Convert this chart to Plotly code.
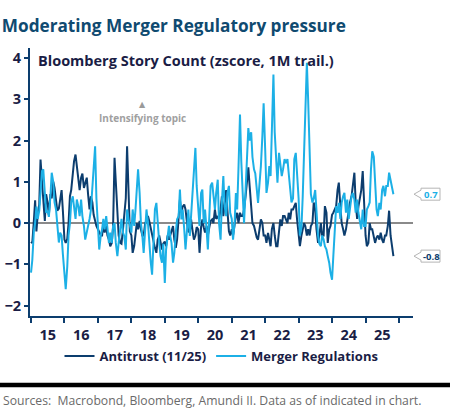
import pandas as pd
import plotly.graph_objects as go

# ---- data (z-scores, semi-monthly readings) ----
antitrust_2015 = [-0.45, -0.48, 0.05, 0.55, -0.2, 0.2, 0.45, 1.54, 1.0, 0.45, 0.05, 0.7, 0.5, 0.2, 0.7, 0.6, 1.0, 0.85, 0.5, 0.3, 0.35, 0.55, 0.8, 0.3]
antitrust_2016 = [-0.4, -0.48, -0.38, 0.0, 0.65, 0.8, 1.2, 1.5, 1.66, 1.35, 1.0, 0.8, 1.1, 1.2, 0.85, 0.95, 1.1, 0.7, 0.33, 0.65, 0.5, 0.2, 0.05, -0.07]
antitrust_2017 = [-0.15, -0.23, -0.3, -0.3, 0.0, -0.23, -0.07, -0.3, -0.4, -0.56, -0.48, -0.1, 1.58, 1.0, 0.2, -0.3, -0.48, -0.5, -0.15, 0.17, 0.6, 1.86, 0.9, -0.2]
antitrust_2018 = [-0.3, -0.72, -0.55, -0.3, 0.0, -0.15, 0.05, -0.15, -0.3, -0.3, 0.0, 0.05, 0.17, 0.05, -0.15, -0.3, -0.48, -0.6, -0.72, -0.4, -0.3, -0.48, -0.64, -0.5]
antitrust_2019 = [-0.45, -0.56, -0.3, -0.4, -0.3, -0.2, -0.07, -0.4, -0.6, -0.4, 0.1, 0.57, 0.25, 0.4, 0.45, 0.33, 0.0, -0.2, -0.23, 0.09, -0.2, -0.4, -0.3, -0.1]
antitrust_2020 = [-0.15, -0.72, -0.1, 0.09, -0.1, -0.23, -0.07, -0.3, -0.1, 0.05, 0.09, 0.0, 0.33, 0.1, 0.17, 0.09, 0.33, 0.65, 0.17, 0.45, 0.8, 0.3, -0.2, -0.3]
antitrust_2021 = [-0.15, -0.3, 0.0, 0.17, 0.25, 0.0, 0.25, 0.17, 0.17, 0.33, 0.65, 1.0, 1.35, 0.9, 0.41, 0.0, -0.07, -0.2, -0.35, -0.4, -0.15, 0.09, 0.0, -0.3]
antitrust_2022 = [-0.3, -0.48, -0.24, -0.4, -0.56, -0.15, 0.0, -0.3, -0.56, -0.56, -0.15, 0.09, -0.07, 0.17, 0.17, 0.09, 0.0, 0.25, 0.09, 0.33, 0.33, 0.41, 0.49, 0.09]
antitrust_2023 = [-0.3, -0.56, -0.3, -0.15, 0.0, -0.07, -0.3, -0.15, -0.3, -0.07, 0.0, 0.5, 0.33, -0.15, -0.48, -0.3, 0.0, -0.3, -0.3, 0.41, 0.25, -0.48, -0.15, -0.07]
antitrust_2024 = [0.2, 0.25, 0.33, 0.41, 0.8, 0.98, 0.4, 0.0, -0.15, -0.3, -0.15, 0.09, 0.33, 0.5, 0.65, 0.9, 1.22, 0.5, 0.1, 0.4, 0.65, 0.8, 1.26, 0.5]
antitrust_2025 = [-0.3, -0.56, -0.48, 0.0, -0.15, -0.15, -0.3, -0.48, -0.35, -0.3, -0.4, -0.23, -0.4, -0.48, -0.3, -0.3, -0.07, 0.3, -0.3, -0.6, -0.8]

merger_2015 = [-1.2, -0.9, -0.2, 0.0, 0.4, 0.1, 0.3, 0.9, 1.26, 1.3, 0.7, 0.25, 0.3, 0.15, 0.65, 1.22, 1.0, 0.5, 0.33, -0.15, -0.47, -0.23, -0.3, -0.75]
merger_2016 = [-1.3, -1.6, -1.05, -0.3, 0.0, 0.5, 0.65, 0.4, 0.1, 0.57, 0.4, 0.17, 0.57, 0.17, -0.07, -0.4, -0.23, -0.1, 0.1, 0.3, 0.8, 1.3, 1.86, 0.6]
merger_2017 = [-0.2, -0.64, -0.3, -0.15, 0.1, -0.15, 0.17, -0.15, -0.48, -0.23, -0.48, -0.07, 0.0, -0.48, -0.8, -0.48, -0.15, 0.1, -0.23, -0.31, -0.64, 0.33, 0.09, -0.07]
merger_2018 = [-0.23, 0.33, -0.07, 0.33, 0.9, 1.3, 0.73, 0.0, -0.31, -0.72, -0.15, 0.33, 0.0, -0.56, -0.96, -1.25, -0.48, 0.33, 0.49, -0.07, -0.48, -0.8, -0.96, -0.5]
merger_2019 = [-1.45, -0.64, -0.31, -0.07, -0.31, -0.48, -0.96, -0.72, -0.23, 0.09, 0.17, 0.81, 0.09, 0.33, -0.15, -0.64, -0.15, 0.33, -0.31, 0.25, 0.7, 1.3, 1.82, 0.9]
merger_2020 = [0.4, -0.07, 0.73, 0.81, 0.0, 0.33, -0.15, -0.64, 0.17, 0.9, 0.98, 0.65, 0.33, 0.73, 1.05, 0.0, -0.4, 0.49, 1.14, 0.41, 0.17, 0.73, 0.9, 0.25]
merger_2021 = [0.1, -0.4, 0.0, 0.73, 0.33, 1.3, 2.63, 1.5, 0.49, 0.0, 0.81, 1.6, 2.3, 2.0, 2.2, 1.6, 1.3, 1.2, 0.9, 0.49, 0.98, 1.38, 2.1, 2.9]
merger_2022 = [1.78, 0.73, 0.98, 1.38, 1.14, 2.5, 3.6, 2.2, 1.5, 0.98, 1.7, 1.4, 1.14, 1.3, 1.55, 1.45, 1.55, 1.2, 0.73, 0.5, 0.6, 1.55, 1.7, 1.3]
merger_2023 = [0.6, -0.3, -0.1, 0.65, 1.7, 3.0, 3.88, 3.0, 1.5, 0.7, 0.5, 0.6, 0.8, 0.3, -0.3, -0.5, -0.56, -0.3, -0.4, -0.56, -0.64, -0.8, -0.96, -1.2]
merger_2024 = [-1.37, -0.8, 0.0, 0.41, 0.25, 0.49, 0.1, 0.49, 0.65, 0.73, 0.25, 0.57, 0.1, 0.33, 0.65, 0.73, 0.57, 0.25, 0.57, 0.25, 0.0, -0.15, 0.33, -0.07]
merger_2025 = [-0.07, 0.33, 0.41, 0.5, 1.3, 1.74, 1.6, 0.9, 0.33, 0.17, 0.49, 0.33, 0.8, 0.9, 0.65, 0.9, 0.9, 1.22, 1.05, 0.9, 0.7]

antitrust = (antitrust_2015 + antitrust_2016 + antitrust_2017 + antitrust_2018 + antitrust_2019 +
             antitrust_2020 + antitrust_2021 + antitrust_2022 + antitrust_2023 + antitrust_2024 + antitrust_2025)
merger = (merger_2015 + merger_2016 + merger_2017 + merger_2018 + merger_2019 +
          merger_2020 + merger_2021 + merger_2022 + merger_2023 + merger_2024 + merger_2025)
dates = pd.date_range("2015-01-01", periods=len(antitrust), freq="SMS")

series_names = ["Antitrust (11/25)", "Merger Regulations"]
y_tickvals = [-2, -1, 0, 1, 2, 3, 4]

DARK = "#0c3d6e"
LIGHT = "#1cb0e6"
NAVY_TXT = "#1a1d45"
FONT = "Open Sans"

fig = go.Figure()
fig.add_trace(go.Scatter(x=dates, y=antitrust, mode="lines", name=series_names[0],
                         line=dict(color=DARK, width=2)))
fig.add_trace(go.Scatter(x=dates, y=merger, mode="lines", name=series_names[1],
                         line=dict(color=LIGHT, width=2)))

W, H = 450, 412
L, R, T, B = 30, 37, 48, 96
pw, ph = W - L - R, H - T - B

def px_x(p):  # pixel -> paper x
    return (p - L) / pw

def px_y(p):  # pixel -> paper y
    return (H - B - p) / ph

fig.update_layout(
    width=W, height=H,
    margin=dict(l=L, r=R, t=T, b=B, autoexpand=False),
    paper_bgcolor="white", plot_bgcolor="white",
    font=dict(family=FONT, color=NAVY_TXT),
    title=dict(text="<b>Moderating Merger Regulatory pressure</b>",
               x=0.004, xanchor="left", xref="container",
               y=1 - 26 / H, yanchor="middle", yref="container",
               font=dict(size=17.2, color="#0f4a70", family=FONT)),
    showlegend=True,
    legend=dict(orientation="h", x=0.5, xanchor="center", y=px_y(356), yanchor="middle",
                font=dict(size=13, color=NAVY_TXT, family=FONT, weight="bold"), itemwidth=30,
                bgcolor="rgba(0,0,0,0)", traceorder="normal"),
    xaxis=dict(
        type="date", range=["2014-12-21", "2026-06-03"],
        dtick="M12", tick0="2015-01-01", tickformat="%y", ticklabelmode="period",
        ticks="outside", ticklen=5, tickwidth=1.5, tickcolor=DARK,
        showline=True, linecolor=DARK, linewidth=2,
        showgrid=False, zeroline=False,
        tickfont=dict(size=14.5, color=NAVY_TXT, family=FONT, weight="bold"),
    ),
    yaxis=dict(
        range=[-2.25, 4.24], tickvals=y_tickvals,
        ticks="outside", ticklen=4, tickwidth=1.5, tickcolor=DARK,
        showline=True, linecolor=DARK, linewidth=2,
        showgrid=False, zeroline=True, zerolinecolor="#8a8a8a", zerolinewidth=1.5,
        tickfont=dict(size=14.5, color=NAVY_TXT, family=FONT, weight="bold"),
    ),
)

# subtitle
fig.add_annotation(xref="paper", yref="paper", x=px_x(36), y=px_y(61), xanchor="left", yanchor="middle",
                   text="<b>Bloomberg Story Count (zscore, 1M trail.)</b>", showarrow=False,
                   font=dict(size=14.5, color=NAVY_TXT, family=FONT))
# intensifying topic marker
fig.add_annotation(xref="paper", yref="paper", x=px_x(142), y=px_y(104), xanchor="center", yanchor="middle",
                   text="▲", showarrow=False, font=dict(size=8, color="#9a9a9a", family="DejaVu Sans"))
fig.add_annotation(xref="paper", yref="paper", x=px_x(142), y=px_y(118), xanchor="center", yanchor="middle",
                   text="<b>Intensifying topic</b>", showarrow=False,
                   font=dict(size=10, color="#a0a0a0", family=FONT))

# last-value callouts
for vals, col in ((merger, LIGHT), (antitrust, DARK)):
    last = vals[-1]
    fig.add_shape(type="path", xref="paper", yref="y", xsizemode="pixel", ysizemode="pixel",
                  xanchor=1, yanchor=last,
                  path="M1,0 L8,4 L8,6 L27,6 L27,-6 L8,-6 L8,-4 Z",
                  line=dict(color="#b5b5b5", width=1), fillcolor="white")
    fig.add_annotation(xref="paper", yref="y", x=1, y=last, xshift=18, xanchor="center", yanchor="middle",
                       text=f"<b>{last:.1f}</b>", showarrow=False,
                       font=dict(size=9.5, color=col, family=FONT))

# black separator bar
fig.add_shape(type="line", xref="paper", yref="paper", x0=px_x(0), x1=px_x(W), y0=px_y(385), y1=px_y(385),
              line=dict(color="black", width=4.5))
# sources
fig.add_annotation(xref="paper", yref="paper", x=px_x(1), y=px_y(400), xanchor="left", yanchor="middle",
                   text="Sources:  Macrobond, Bloomberg, Amundi II. Data as of indicated in chart.",
                   showarrow=False, font=dict(size=12.2, color="#6a6a6a", family=FONT))

fig.write_html("out.html", config={"displayModeBar": False},
               post_script="document.body.style.margin='0';document.body.style.overflow='hidden';")
